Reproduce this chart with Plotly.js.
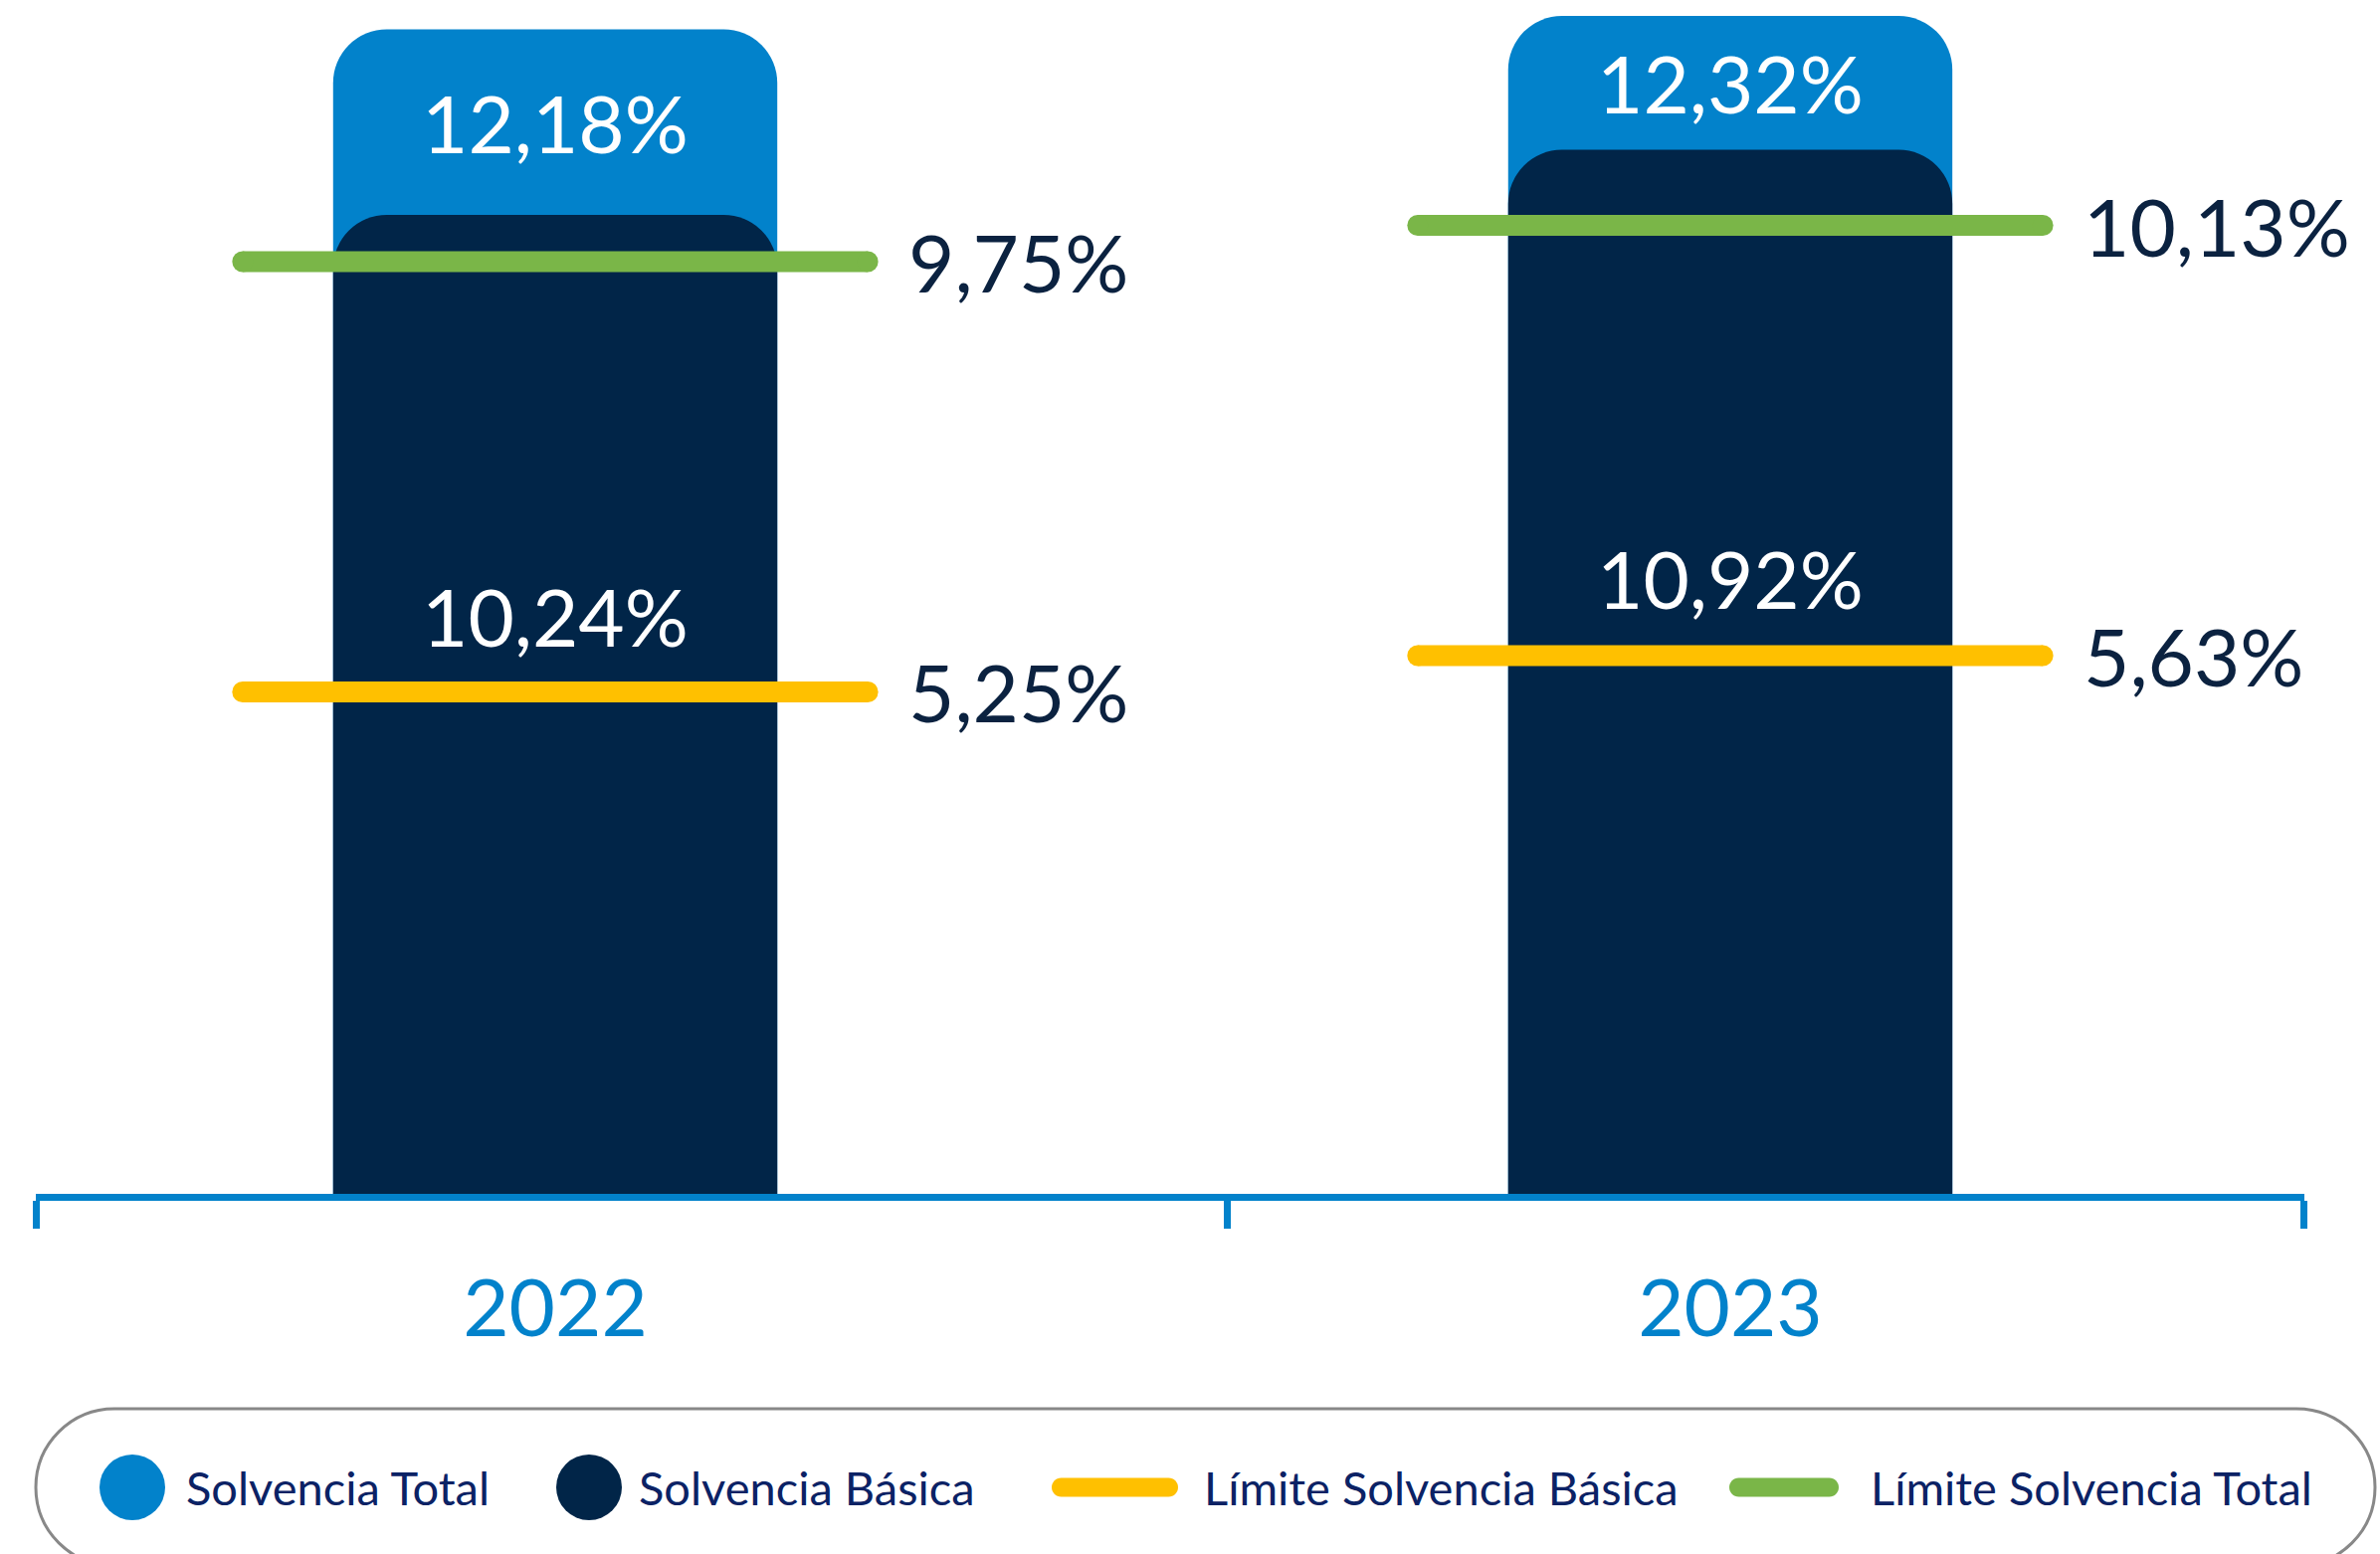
<!DOCTYPE html>
<html>
<head>
<meta charset="utf-8">
<script src="https://cdn.plot.ly/plotly-3.0.1.min.js"></script>
<style>html,body{margin:0;padding:0;background:#fff;}#chart{width:2392px;height:1562px;}</style>
</head>
<body>
<div id="chart"></div>
<script>
// ---- data ----
const years = ['2022', '2023'];
const solvenciaTotal = [12.18, 12.32];
const solvenciaBasica = [10.24, 10.92];
const limiteSolvenciaBasica = [5.25, 5.63];
const limiteSolvenciaTotal = [9.75, 10.13];
const legendLabels = ['Solvencia Total', 'Solvencia Básica', 'Límite Solvencia Básica', 'Límite Solvencia Total'];

// ---- style ----
const C_LIGHT = '#0282CB';
const C_DARK = '#012548';
const C_YELLOW = '#FFC000';
const C_GREEN = '#7AB648';
const C_TEXT = '#0B2240';
const C_LEG = '#0B2265';
const FONT = 'Lato, "Open Sans", sans-serif';

const W = 2392, H = 1562;
const M = {l: 36, r: 76, t: 0, b: 362};
const PW = W - M.l - M.r, PH = H - M.t - M.b;
const X = px => (px - M.l) / PW;
const Y = py => (H - M.b - py) / PH;

const fmt = v => v.toFixed(2).replace('.', ',') + '%';
const idx = years.map((_, i) => i);
const XRANGE = [-0.442, 1.4886];

function pillPath(x0, x1, yc, h) {
  const r = h / 2, k = 0.5523 * r;
  const P = (a, b) => X(a) + ',' + Y(b);
  return 'M' + P(x0 + r, yc - r) +
    ' L' + P(x1 - r, yc - r) +
    ' C' + P(x1 - r + k, yc - r) + ' ' + P(x1, yc - k) + ' ' + P(x1, yc) +
    ' C' + P(x1, yc + k) + ' ' + P(x1 - r + k, yc + r) + ' ' + P(x1 - r, yc + r) +
    ' L' + P(x0 + r, yc + r) +
    ' C' + P(x0 + r - k, yc + r) + ' ' + P(x0, yc + k) + ' ' + P(x0, yc) +
    ' C' + P(x0, yc - k) + ' ' + P(x0 + r - k, yc - r) + ' ' + P(x0 + r, yc - r) + ' Z';
}

function limitLine(vals, color, name) {
  const xs = [], ys = [];
  vals.forEach((v, i) => { xs.push(i - 0.266, i + 0.266, null); ys.push(v, v, null); });
  return {type: 'scatter', mode: 'lines+markers', name: name, x: xs, y: ys, xaxis: 'x2',
    line: {color: color, width: 21}, marker: {color: color, size: 21, symbol: 'circle'},
    hoverinfo: 'skip', cliponaxis: false};
}

const traces = [
  {type: 'bar', name: legendLabels[0], x: idx, y: solvenciaTotal, width: 0.378, xaxis: 'x',
   marker: {color: C_LIGHT, cornerradius: 54, line: {width: 0}}, hoverinfo: 'skip'},
  {type: 'bar', name: legendLabels[1], x: idx, y: solvenciaBasica, width: 0.378, xaxis: 'x2',
   marker: {color: C_DARK, cornerradius: 54, line: {width: 0}}, hoverinfo: 'skip'},
  limitLine(limiteSolvenciaBasica, C_YELLOW, legendLabels[2]),
  limitLine(limiteSolvenciaTotal, C_GREEN, legendLabels[3])
];

const annotations = [];
idx.forEach(i => {
  annotations.push({x: i, y: (solvenciaTotal[i] + solvenciaBasica[i]) / 2, xref: 'x', yref: 'y',
    text: fmt(solvenciaTotal[i]), showarrow: false, font: {family: FONT, size: 80, color: '#ffffff'},
    xanchor: 'center', yanchor: 'middle'});
  annotations.push({x: i, y: solvenciaBasica[i] * 0.59, xref: 'x', yref: 'y',
    text: fmt(solvenciaBasica[i]), showarrow: false, font: {family: FONT, size: 80, color: '#ffffff'},
    xanchor: 'center', yanchor: 'middle'});
  [limiteSolvenciaBasica, limiteSolvenciaTotal].forEach(arr => {
    annotations.push({x: i + 0.30, y: arr[i], xref: 'x', yref: 'y',
      text: fmt(arr[i]), showarrow: false, font: {family: FONT, size: 80, color: C_TEXT},
      xanchor: 'left', yanchor: 'middle', borderpad: 0});
  });
});

// legend (custom)
const legY = 1495;
const shapes = [
  {type: 'path', xref: 'paper', yref: 'paper', path: pillPath(36, 2387, legY, 158),
   line: {color: '#888888', width: 3}, fillcolor: 'rgba(0,0,0,0)'},
  {type: 'circle', xref: 'paper', yref: 'paper', x0: X(100), x1: X(166), y0: Y(legY - 33), y1: Y(legY + 33),
   fillcolor: C_LIGHT, line: {width: 0}},
  {type: 'circle', xref: 'paper', yref: 'paper', x0: X(559), x1: X(625), y0: Y(legY - 33), y1: Y(legY + 33),
   fillcolor: C_DARK, line: {width: 0}},
  {type: 'path', xref: 'paper', yref: 'paper', path: pillPath(1057, 1184, legY, 19),
   fillcolor: C_YELLOW, line: {width: 0}},
  {type: 'path', xref: 'paper', yref: 'paper', path: pillPath(1738, 1848, legY, 19),
   fillcolor: C_GREEN, line: {width: 0}}
];
[[186, 0], [641, 1], [1209, 2], [1879, 3]].forEach(([px, k]) => {
  annotations.push({x: X(px), y: Y(legY), xref: 'paper', yref: 'paper', text: legendLabels[k],
    showarrow: false, xanchor: 'left', yanchor: 'middle', borderpad: 0,
    font: {family: FONT, size: 47, color: C_LEG}});
});

const layout = {
  width: W, height: H,
  margin: M,
  paper_bgcolor: '#ffffff', plot_bgcolor: '#ffffff',
  barmode: 'overlay',
  showlegend: false,
  font: {family: FONT},
  xaxis: {
    range: XRANGE, fixedrange: true,
    tickmode: 'array', tickvals: idx, ticktext: years, ticks: '',
    tickfont: {family: FONT, size: 80, color: C_LIGHT},
    showline: true, linecolor: C_LIGHT, linewidth: 7, showgrid: false, zeroline: false,
    ticklabelstandoff: 40,
    minor: {tickmode: 'array', tickvals: [-0.4415, 0.572, 1.4885], ticks: 'outside',
      ticklen: 28, tickwidth: 7, tickcolor: C_LIGHT, showgrid: false}
  },
  xaxis2: {range: XRANGE, overlaying: 'x', visible: false, fixedrange: true},
  yaxis: {range: [0, 12.487], visible: false, fixedrange: true},
  annotations: annotations,
  shapes: shapes
};

Plotly.newPlot('chart', traces, layout, {staticPlot: true, displayModeBar: false});
</script>
</body>
</html>
